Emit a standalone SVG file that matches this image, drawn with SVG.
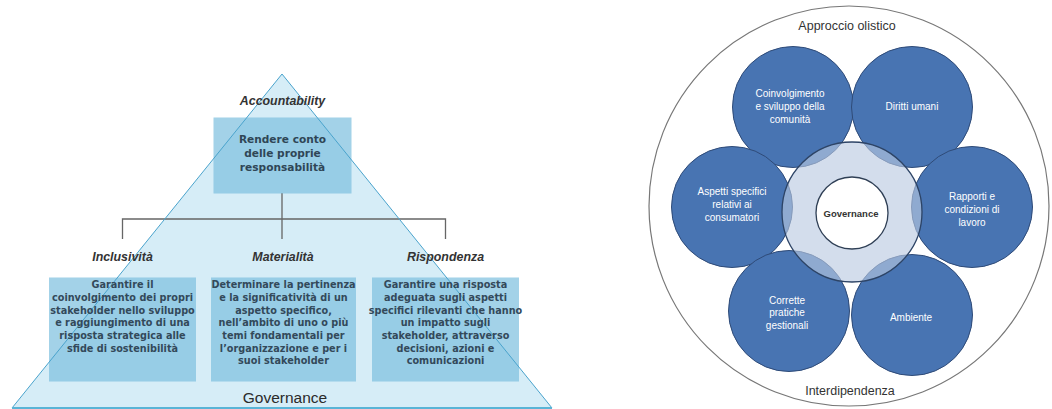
<svg xmlns="http://www.w3.org/2000/svg" width="1052" height="409" viewBox="0 0 1052 409">
<style>
.lbl{font-family:"Liberation Sans",Arial,sans-serif;font-weight:bold;font-style:italic;font-size:12.4px;fill:#333;text-anchor:middle}
.box{fill:#7cbfde;fill-opacity:0.7}
.bt{font-family:"DejaVu Sans",Verdana,sans-serif;font-weight:bold;font-size:9.7px;fill:#33495a;text-anchor:middle}
.tt{font-family:"DejaVu Sans",Verdana,sans-serif;font-weight:bold;font-size:10.6px;fill:#2f4656;text-anchor:middle}
.conn{stroke:#666;stroke-width:1.3;fill:none}
.bc{fill:#4874b2;stroke:#2f4b78;stroke-width:1}
.ct{font-family:"Liberation Sans",Arial,sans-serif;font-size:10px;fill:#fff;text-anchor:middle}
.rt{font-family:"Liberation Sans",Arial,sans-serif;font-size:12.5px;fill:#333;text-anchor:middle}
</style>
<rect width="1052" height="409" fill="#fff"/>

<!-- Left: pyramid -->
<g id="pyramid">
<polygon points="282,74 12,408 552,408" fill="#d6edf7"/>
</g>

<g id="connectors">
<path class="conn" d="M282,193 V219 M122.5,239 V219 H445.5 V239 M282,219 V239"/>
</g>

<g id="accountability">
<rect class="box" x="213.5" y="117.5" width="138" height="76"/>
</g>
<g id="inclusivita">
<rect class="box" x="49" y="277.5" width="147" height="104"/>
</g>
<g id="materialita">
<rect class="box" x="211" y="277.5" width="145" height="104"/>
</g>
<g id="rispondenza">
<rect class="box" x="372" y="277.5" width="147" height="104"/>
</g>

<g id="pyramid-outline">
<polygon points="282,74 12,408 552,408" fill="none" stroke="#4aa3cc" stroke-width="1"/>
<line x1="12" y1="408" x2="552" y2="408" stroke="#5ab4d6" stroke-width="2"/>
</g>

<g id="accountability-text">
<text class="lbl" x="282.5" y="105">Accountability</text>
<text class="tt" x="282.5" y="143">Rendere conto</text>
<text class="tt" x="282.5" y="157">delle proprie</text>
<text class="tt" x="282.5" y="171">responsabilità</text>
</g>

<g id="inclusivita-text">
<text class="lbl" x="122.5" y="261">Inclusività</text>
<text class="bt" x="122.5" y="288.3">Garantire il</text>
<text class="bt" x="122.5" y="301">coinvolgimento dei propri</text>
<text class="bt" x="122.5" y="313.6">stakeholder nello sviluppo</text>
<text class="bt" x="122.5" y="326.3">e raggiungimento di una</text>
<text class="bt" x="122.5" y="339">risposta strategica alle</text>
<text class="bt" x="122.5" y="351.6">sfide di sostenibilità</text>
</g>

<g id="materialita-text">
<text class="lbl" x="283" y="261">Materialità</text>
<text class="bt" x="283.5" y="288.3">Determinare la pertinenza</text>
<text class="bt" x="283.5" y="301">e la significatività di un</text>
<text class="bt" x="283.5" y="313.6">aspetto specifico,</text>
<text class="bt" x="283.5" y="326.3">nell’ambito di uno o più</text>
<text class="bt" x="283.5" y="339">temi fondamentali per</text>
<text class="bt" x="283.5" y="351.6">l’organizzazione e per i</text>
<text class="bt" x="283.5" y="364.3">suoi stakeholder</text>
</g>

<g id="rispondenza-text">
<text class="lbl" x="445.5" y="261">Rispondenza</text>
<text class="bt" x="445.5" y="288.3">Garantire una risposta</text>
<text class="bt" x="445.5" y="301">adeguata sugli aspetti</text>
<text class="bt" x="445.5" y="313.6">specifici rilevanti che hanno</text>
<text class="bt" x="445.5" y="326.3">un impatto sugli</text>
<text class="bt" x="445.5" y="339">stakeholder, attraverso</text>
<text class="bt" x="445.5" y="351.6">decisioni, azioni e</text>
<text class="bt" x="445.5" y="364.3">comunicazioni</text>
</g>

<g id="governance-base">
<text x="285" y="403" font-family="'Liberation Sans',Arial,sans-serif" font-size="15.5px" fill="#2a2a2a" text-anchor="middle">Governance</text>
</g>

<!-- Right: circle diagram -->
<g id="outer-circle">
<circle cx="849" cy="206" r="200" fill="#fff" stroke="#777" stroke-width="1.2"/>
<text class="rt" x="847" y="30">Approccio olistico</text>
<text class="rt" x="850" y="395">Interdipendenza</text>
</g>

<g id="comunita">
<circle class="bc" cx="793" cy="107" r="60.5"/>
<text class="ct" x="790" y="97">Coinvolgimento</text>
<text class="ct" x="790" y="110">e sviluppo della</text>
<text class="ct" x="790" y="123">comunità</text>
</g>
<g id="diritti">
<circle class="bc" cx="912" cy="107" r="60.5"/>
<text class="ct" x="912" y="110">Diritti umani</text>
</g>
<g id="consumatori">
<circle class="bc" cx="732" cy="207" r="60.5"/>
<text class="ct" x="732" y="195">Aspetti specifici</text>
<text class="ct" x="732" y="208">relativi ai</text>
<text class="ct" x="732" y="221">consumatori</text>
</g>
<g id="lavoro">
<circle class="bc" cx="972" cy="207" r="60.5"/>
<text class="ct" x="972" y="200">Rapporti e</text>
<text class="ct" x="972" y="213">condizioni di</text>
<text class="ct" x="972" y="226">lavoro</text>
</g>
<g id="pratiche">
<circle class="bc" cx="789" cy="311" r="60.5"/>
<text class="ct" x="787" y="303.5">Corrette</text>
<text class="ct" x="787" y="316">pratiche</text>
<text class="ct" x="787" y="329">gestionali</text>
</g>
<g id="ambiente">
<circle class="bc" cx="912" cy="315" r="60.5"/>
<text class="ct" x="911" y="321">Ambiente</text>
</g>

<g id="ring">
<circle cx="852" cy="212" r="70" fill="#b9c9e1" fill-opacity="0.63" stroke="#2d4466" stroke-width="1.3"/>
</g>
<g id="governance">
<circle cx="852" cy="213" r="36" fill="#fff" stroke="#2f3f55" stroke-width="1.3"/>
<text x="851" y="216.5" font-family="'Liberation Sans',Arial,sans-serif" font-weight="bold" font-size="9.5px" fill="#333" text-anchor="middle">Governance</text>
</g>
</svg>
